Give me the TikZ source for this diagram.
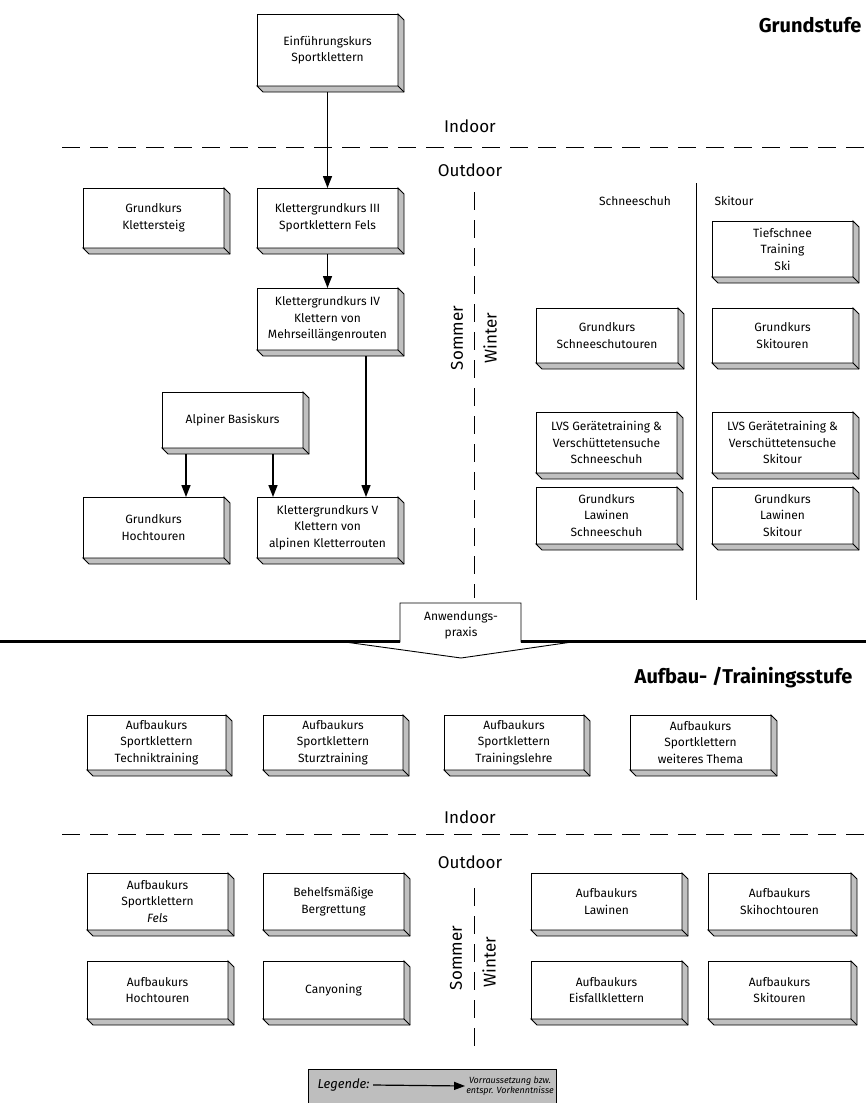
\documentclass[tikz,border=0pt]{standalone}
\usepackage{fontspec}
\setmainfont{Fira Sans}
\usetikzlibrary{arrows.meta,calc}
\definecolor{side}{RGB}{192,192,192}
\definecolor{leg}{RGB}{190,190,190}
\tikzset{
  kb/.style={draw, fill=white, line width=0.9pt, outer sep=0pt, inner sep=1pt, align=center,
    font=\fontsize{12}{16.5}\selectfont},
  arr/.style={line width=1.4pt, -{Triangle[length=12pt,width=9pt]}},
  dsh/.style={line width=1pt, dash pattern=on 18pt off 10pt},
  big/.style={font=\fontsize{17}{20}\selectfont},
  lbl/.style={font=\fontsize{12}{16}\selectfont},
  ttl/.style={font=\fontsize{20}{24}\selectfont\bfseries},
}
\newcommand\kbox[6]{%
  \node[kb, minimum width={(#4-#2)*1pt}, minimum height={(#5-#3)*1pt}] (#1) at ({(#2+#4)/2},{(#3+#5)/2}) {#6};
  \draw[fill=side, line width=0.9pt, line join=miter] (#1.north east) -- ++(6,6) -- ($(#1.south east)+(6,6)$) -- ($(#1.south west)+(6,6)$) -- (#1.south west) -- (#1.south east) -- cycle;
  \draw[line width=0.9pt] (#1.south east) -- ++(6,6);
}
\begin{document}
\begin{tikzpicture}[x=1pt,y=-1pt]
\useasboundingbox (0,0) rectangle (866,1103);

% ---------- Grundstufe ----------
\node[ttl, anchor=east] (gs) at (865,25) {Grundstufe};
\node[big] (in1) at (470,126) {Indoor};
\coordinate (d1a) at (62,147); \coordinate (d1b) at (866,147);
\draw[dsh] (d1a) -- (d1b);
\node[big] (out1) at (470,170) {Outdoor};

\kbox{einf}{257}{14}{398}{86}{Einführungskurs\\Sportklettern}
\kbox{kst}{83}{188}{224}{248}{Grundkurs\\Klettersteig}
\kbox{k3}{257}{188}{398}{248}{Klettergrundkurs III\\Sportklettern Fels}
\kbox{k4}{257}{288}{398}{350}{Klettergrundkurs IV\\Klettern von\\Mehrseillängenrouten}
\kbox{alp}{162}{392}{303}{448}{Alpiner Basiskurs}
\kbox{hoch}{83}{497}{224}{558}{Grundkurs\\Hochtouren}
\kbox{k5}{257}{497}{398}{558}{Klettergrundkurs V\\Klettern von\\alpinen Kletterrouten}

\coordinate (xa) at (186,0); \coordinate (xb) at (273,0); \coordinate (xc) at (366,0);
\draw[arr] ($(einf.south)+(0,6)$) -- (k3.north);
\draw[arr] ($(k3.south)+(0,6)$) -- (k4.north);
\draw[arr] ($(k4.south -| xc)+(0,6)$) -- (k5.north -| xc);
\draw[arr] ($(alp.south -| xa)+(0,6)$) -- (hoch.north -| xa);
\draw[arr] ($(alp.south -| xb)+(0,6)$) -- (k5.north -| xb);

% Sommer / Winter
\coordinate (v1a) at (474,192); \coordinate (v1b) at (474,598);
\draw[dsh] (v1a) -- (v1b);
\node[big, rotate=90] (so1) at (457,338) {Sommer};
\node[big, rotate=90] (wi1) at (490,338) {Winter};

\node[lbl] (sch) at (635,201) {Schneeschuh};
\node[lbl] (ski) at (734,201) {Skitour};
\coordinate (s1a) at (696,183); \coordinate (s1b) at (696,600);
\draw[line width=1pt] (s1a) -- (s1b);

\kbox{tief}{712}{221}{853}{277}{Tiefschnee\\Training\\Ski}
\kbox{gss}{536}{308}{678}{363}{Grundkurs\\Schneeschutouren}
\kbox{gski}{712}{308}{853}{363}{Grundkurs\\Skitouren}
\kbox{lvsa}{536}{412}{677}{473}{LVS Gerätetraining \&\\Verschüttetensuche\\Schneeschuh}
\kbox{lvsb}{712}{412}{853}{473}{LVS Gerätetraining \&\\Verschüttetensuche\\Skitour}
\kbox{lawa}{536}{487}{677}{544}{Grundkurs\\Lawinen\\Schneeschuh}
\kbox{lawb}{712}{487}{853}{544}{Grundkurs\\Lawinen\\Skitour}

% ---------- Anwendungspraxis ----------
\draw[fill=white, line width=0.9pt] (400,603) -- (521,603) -- (521,642) -- (572,642) -- (461,658) -- (345,642) -- (400,642) -- cycle;
\coordinate (tl0) at (0,641); \coordinate (tl1) at (400,641);
\coordinate (tr0) at (521,641); \coordinate (tr1) at (866,641);
\draw[line width=3pt] (tl0) -- (tl1);
\draw[line width=3pt] (tr0) -- (tr1);
\node[lbl, align=center] (anw) at (461,625) {Anwendungs-\\praxis};

% ---------- Aufbaustufe ----------
\node[ttl, anchor=east] (as) at (856,678) {Aufbau- /Trainingsstufe};
\kbox{a1}{87}{715}{226}{770}{Aufbaukurs\\Sportklettern\\Techniktraining}
\kbox{a2}{263}{715}{403}{770}{Aufbaukurs\\Sportklettern\\Sturztraining}
\kbox{a3}{444}{715}{584}{770}{Aufbaukurs\\Sportklettern\\Trainingslehre}
\kbox{a4}{630}{715}{771}{770}{Aufbaukurs\\Sportklettern\\weiteres Thema}

\node[big] (in2) at (470,817) {Indoor};
\coordinate (d2a) at (62,834); \coordinate (d2b) at (866,834);
\draw[dsh] (d2a) -- (d2b);
\node[big] (out2) at (470,862) {Outdoor};

\kbox{o1}{87}{873}{228}{930}{Aufbaukurs\\Sportklettern\\\textit{Fels}}
\kbox{o2}{263}{873}{404}{930}{Behelfsmäßige\\Bergrettung}
\kbox{o3}{531}{873}{682}{930}{Aufbaukurs\\Lawinen}
\kbox{o4}{708}{873}{851}{930}{Aufbaukurs\\Skihochtouren}
\kbox{o5}{87}{961}{228}{1019}{Aufbaukurs\\Hochtouren}
\kbox{o6}{263}{961}{404}{1019}{Canyoning}
\kbox{o7}{531}{961}{682}{1019}{Aufbaukurs\\Eisfallklettern}
\kbox{o8}{708}{961}{851}{1019}{Aufbaukurs\\Skitouren}

\coordinate (v2a) at (474,888); \coordinate (v2b) at (474,1050);
\draw[dsh] (v2a) -- (v2b);
\node[big, rotate=90] (so2) at (456,958) {Sommer};
\node[big, rotate=90] (wi2) at (489,962) {Winter};

% ---------- Legende ----------
\node[draw, fill=leg, line width=0.8pt, minimum width=248pt, minimum height=34pt, inner sep=0pt] (leg) at (432,1086) {};
\node[font=\fontsize{13}{15}\selectfont\itshape, anchor=west] (legt) at (314,1085) {Legende:};
\node[font=\fontsize{9}{10}\selectfont\itshape, align=center, anchor=east, inner sep=1pt] (legv) at (555,1086) {Vorraussetzung bzw.\\entspr. Vorkenntnisse};
\draw[line width=1.2pt, -{Triangle[length=11pt,width=8pt]}] (legt.east) -- (legv.west);
\end{tikzpicture}
\end{document}
